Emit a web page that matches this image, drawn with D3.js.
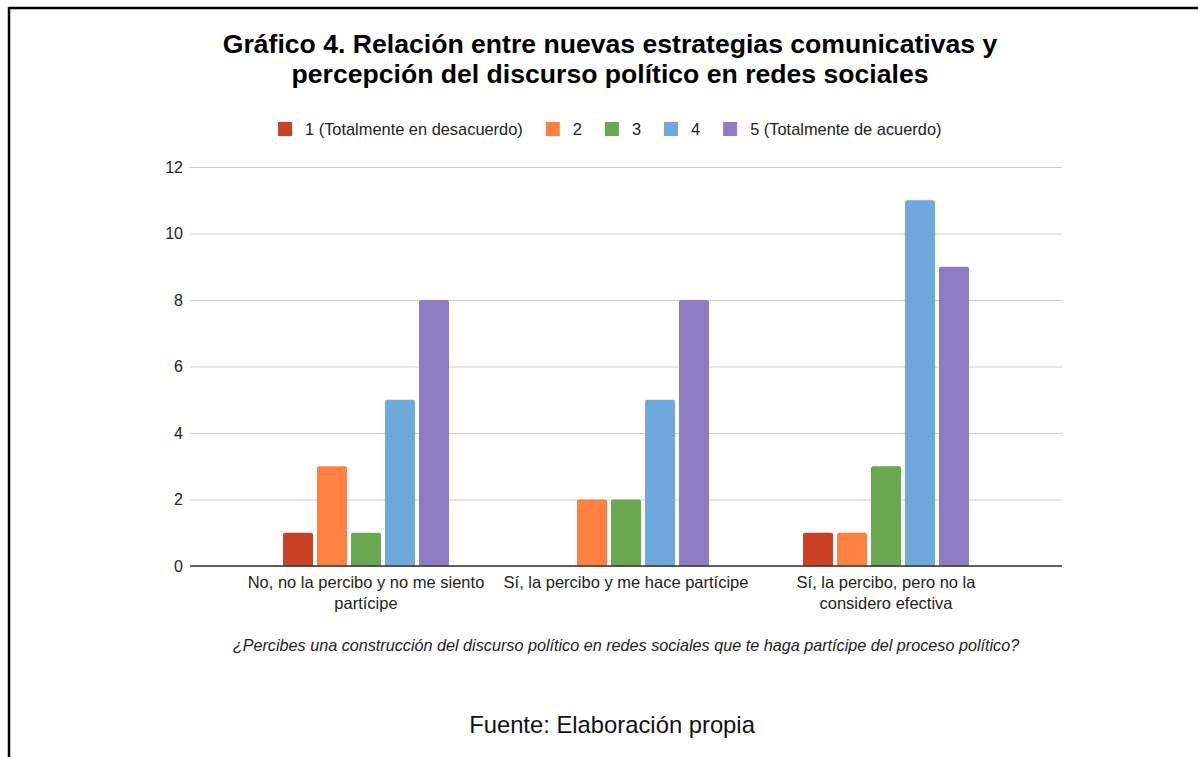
<!DOCTYPE html>
<html><head><meta charset="utf-8">
<script src="https://cdn.jsdelivr.net/npm/d3@7"></script>
<style>html,body{margin:0;padding:0;background:#fff;}svg{display:block;font-family:"Liberation Sans",Arial,sans-serif;}</style>
</head><body>
<svg id="c" width="1198" height="757"></svg>
<script>
const categories = ["No, no la percibo y no me siento partícipe", "Sí, la percibo y me hace partícipe", "Sí, la percibo, pero no la considero efectiva"];
const categoryLines = [["No, no la percibo y no me siento", "partícipe"], ["Sí, la percibo y me hace partícipe"], ["Sí, la percibo, pero no la", "considero efectiva"]];
const seriesNames = ["1 (Totalmente en desacuerdo)", "2", "3", "4", "5 (Totalmente de acuerdo)"];
const s1 = [1, 0, 1];
const s2 = [3, 2, 1];
const s3 = [1, 2, 3];
const s4 = [5, 5, 11];
const s5 = [8, 8, 9];
const seriesValues = [s1, s2, s3, s4, s5];
const colors = ["#cc4125", "#ff8142", "#6aa84f", "#6fa8dc", "#8e7cc3"];
const yTicks = [0, 2, 4, 6, 8, 10, 12];
const titleLines = ["Gráfico 4. Relación entre nuevas estrategias comunicativas y", "percepción del discurso político en redes sociales"];
const axisTitle = "¿Percibes una construcción del discurso político en redes sociales que te haga partícipe del proceso político?";
const sourceText = "Fuente: Elaboración propia";

const svg = d3.select("#c");
// border
svg.append("line").attr("x1", 9).attr("x2", 1198).attr("y1", 8).attr("y2", 8).attr("stroke", "#000").attr("stroke-width", 2.5);
svg.append("line").attr("x1", 9).attr("x2", 9).attr("y1", 7).attr("y2", 757).attr("stroke", "#000").attr("stroke-width", 2.5);

// title
svg.selectAll("text.title").data(titleLines).join("text").attr("class", "title")
  .attr("x", 610).attr("y", (d, i) => 53 + i * 30).attr("text-anchor", "middle")
  .attr("font-size", 26.6).attr("font-weight", "bold").attr("fill", "#000").text(d => d);

const left = 190, right = 1062;
const y = d3.scaleLinear().domain([0, 12]).range([566, 167]);
const x0 = d3.scaleBand().domain(categories).range([236, 1016]).padding(0);
const x1 = d3.scaleBand().domain(seriesNames).range([-85, 85]).paddingInner(0.118).paddingOuter(0.059);

// gridlines + y labels
const yAxis = d3.axisLeft(y).tickValues(yTicks).tickSize(-(right - left)).tickPadding(7).tickFormat(d3.format("d"));
const ga = svg.append("g").attr("transform", `translate(${left},0)`).call(yAxis);
ga.select(".domain").remove();
ga.selectAll(".tick line").attr("stroke", "#cccccc").attr("stroke-width", 1);
ga.selectAll(".tick text").attr("font-size", 16).attr("fill", "#222").attr("font-family", "Liberation Sans, Arial, sans-serif");

// bars
const rows = [];
categories.forEach((c, ci) => seriesNames.forEach((s, si) => rows.push({c, s, si, v: seriesValues[si][ci]})));
const r = 2;
svg.append("g").selectAll("path").data(rows.filter(d => d.v > 0)).join("path")
  .attr("fill", d => colors[d.si])
  .attr("d", d => {
    const xl = x0(d.c) + x0.bandwidth() / 2 + x1(d.s), w = x1.bandwidth();
    const yt = y(d.v), yb = y(0);
    return `M${xl},${yb}V${yt + r}Q${xl},${yt} ${xl + r},${yt}H${xl + w - r}Q${xl + w},${yt} ${xl + w},${yt + r}V${yb}Z`;
  });

// baseline
svg.append("line").attr("x1", left).attr("x2", right).attr("y1", y(0)).attr("y2", y(0)).attr("stroke", "#333").attr("stroke-width", 1.3);

// x labels
const xl = svg.append("g").selectAll("text").data(categories).join("text")
  .attr("x", d => x0(d) + x0.bandwidth() / 2).attr("y", 588).attr("text-anchor", "middle")
  .attr("font-size", 16.5).attr("fill", "#222");
xl.each(function(d, i) {
  d3.select(this).selectAll("tspan").data(categoryLines[i]).join("tspan")
    .attr("x", x0(d) + x0.bandwidth() / 2).attr("dy", (t, j) => j === 0 ? 0 : 21).text(t => t);
});

// axis title
svg.append("text").attr("x", 626).attr("y", 651).attr("text-anchor", "middle").attr("font-size", 16.2)
  .attr("font-style", "italic").attr("fill", "#222").text(axisTitle);

// legend
const lg = svg.append("g");
let lx = 278;
seriesNames.forEach((s, i) => {
  lg.append("rect").attr("x", lx).attr("y", 122).attr("width", 14).attr("height", 14).attr("fill", colors[i]);
  const t = lg.append("text").attr("x", lx + 27).attr("y", 135).attr("font-size", 16.4).attr("fill", "#222").text(s);
  const w = t.node().getComputedTextLength();
  lx = lx + 27 + w + 23;
});

// source
svg.append("text").attr("x", 612).attr("y", 733).attr("text-anchor", "middle").attr("font-size", 23.8).attr("fill", "#111").text(sourceText);
</script>
</body></html>
